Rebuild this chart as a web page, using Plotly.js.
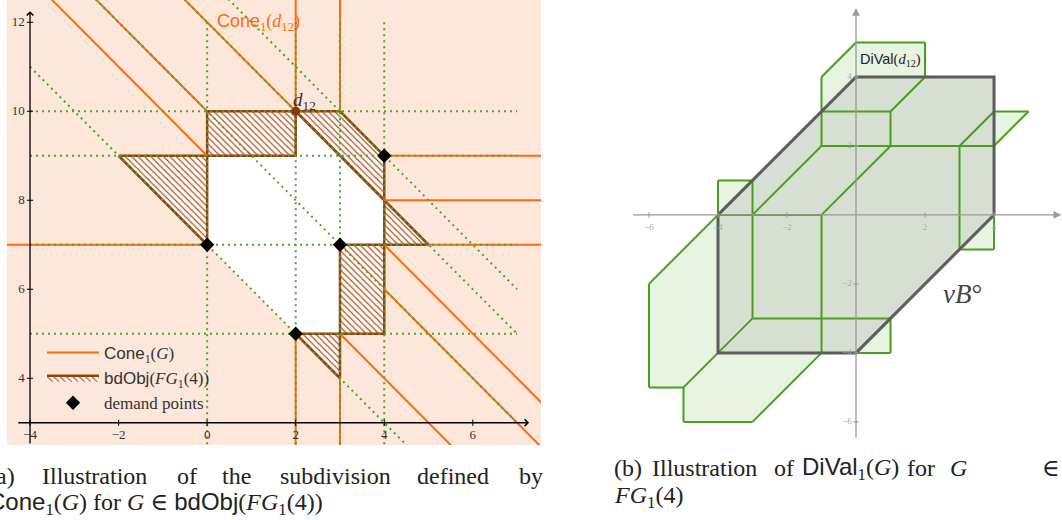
<!DOCTYPE html>
<html><head><meta charset="utf-8">
<script src="https://cdn.plot.ly/plotly-3.0.1.min.js"></script>
<style>html,body{margin:0;padding:0;background:#fff;} #chart{width:1062px;height:520px;}</style>
</head><body><div id="chart"></div>
<script>
// ===== (a) left panel data =====
const demandX = [0, 2, 3, 4];
const demandY = [7, 5, 7, 9];
const d12X = [2];
const d12Y = [10];
const whiteX = [0, 0, 2, 2, 4, 4, 3, 3, 2, 0];
const whiteY = [7, 9, 9, 10, 8, 7, 7, 5, 5, 7];
const bdObjX = [[-2, 0, 0, -2], [0, 2, 2, 0, 0], [2, 3, 4, 4, 2], [4, 5, 4, 4], [3, 4, 4, 3, 3], [2, 3, 3, 2]];
const bdObjY = [[9, 9, 7, 9], [9, 9, 10, 10, 9], [10, 10, 9, 8, 10], [8, 7, 7, 8], [7, 7, 5, 5, 7], [5, 5, 4, 5]];
// cone boundary segments [x0, y0, x1, y1]
const coneLines = [
  [2, 10, 2, 14], [2, 5, 2, 1], [3, 10, 3, 14], [3, 4, 3, 1],
  [-6, 7, 0, 7], [5, 7, 9, 7], [4, 9, 9, 9], [4, 8, 9, 8],
  [-5, 14, 0, 9], [-4, 14, 0, 10], [4, 6, 9, 1], [-2, 14, 2, 10],
  [3, 5, 7, 1], [4, 7, 10, 1]
];
// dotted subdivision segments [x0, y0, x1, y1]
const gridLines = [
  [0, 12, 0, 1], [2, 12, 2, 1], [3, 12, 3, 1], [4, 12, 4, 1],
  [-4, 5, 7, 5], [-4, 7, 7, 7], [-4, 9, 7, 9], [-4, 10, 7, 10],
  [-4, 11, 6, 1], [-3, 13, 7, 3], [-1, 13, 7, 5], [0, 13, 7, 6]
];
const xTicksA = [-4, -2, 0, 2, 4, 6];
const yTicksA = [4, 6, 8, 10, 12];

// ===== (b) right panel data =====
const vBX = [-4, -4, 0, 4, 4, 0, -4];
const vBY = [0, -4, -4, 0, 4, 4, 0];
const diValOutX = [[-1, -1, 0, 2, 2, 0, -1], [-4, -4, -3, -4], [4, 4, 5, 4], [3, 4, 4, 3],
  [-4, -6, -6, -5, -4, -4], [-4, -5, -5, -3, -1, -4], [0, 1, 1, 0]];
const diValOutY = [[3, 4, 5, 5, 4, 4, 3], [0, 1, 1, 0], [2, 3, 3, 2], [-1, -1, 0, -1],
  [0, -2, -5, -5, -4, 0], [-4, -5, -6, -6, -4, -4], [-4, -4, -3, -4]];
const diValEdges = [
  [-1, 3, -1, 4], [-1, 4, 0, 5], [0, 5, 2, 5], [2, 5, 2, 4], [2, 4, 1, 3], [1, 3, -1, 3],
  [1, 3, 1, 2], [-1, 3, -1, 2], [-1, 2, 4, 2], [-1, 2, -3, 0], [1, 2, -1, 0],
  [-4, 1, -3, 1], [-4, 0, -4, 1], [-3, 1, -3, -3], [-4, 0, -1, 0], [-1, 0, -1, -4],
  [-3, -3, 1, -3], [-3, -3, -4, -4], [1, -3, 1, -4], [0, -4, 1, -4],
  [3, 2, 4, 3], [4, 3, 5, 3], [5, 3, 4, 2], [3, 2, 3, -1], [3, -1, 4, -1], [4, -1, 4, 0],
  [-4, 0, -6, -2], [-6, -2, -6, -5], [-6, -5, -5, -5], [-5, -5, -4, -4],
  [-5, -5, -5, -6], [-5, -6, -3, -6], [-3, -6, -1, -4]
];
const xTicksB = [-6, -4, -2, 2, 4];
const yTicksB = [4, 2, -2, -4, -6];

// ===== helpers =====
function segs(list) {
  const x = [], y = [];
  list.forEach(s => { x.push(s[0], s[2], null); y.push(s[1], s[3], null); });
  return {x, y};
}
function polys(xs, ys) {
  const x = [], y = [];
  xs.forEach((p, i) => { x.push(...p, null); y.push(...ys[i], null); });
  return {x, y};
}
const fmt = v => (v < 0 ? '\u2212' + Math.abs(v) : String(v));

const SERIF = 'Liberation Serif, DejaVu Serif, serif';
const ORANGE = '#ff6a10';
const GREEN = '#4aa52a';
const BROWN = '#96400f';

const cone = segs(coneLines);
const grid = segs(gridLines);
const hatch = polys(bdObjX, bdObjY);
const outB = polys(diValOutX, diValOutY);
const edgesB = segs(diValEdges);
const tickA = segs(xTicksA.map(t => [t, 2.93, t, 3.07]).concat(yTicksA.map(t => [-4.07, t, -3.93, t])));
const tickB = segs(xTicksB.map(t => [t, -0.08, t, 0.08]).concat(yTicksB.map(t => [-0.08, t, 0.08, t])));
const sf = t => '<span style="font-family:Liberation Sans">' + t + '</span>';

const traces = [
  {x: whiteX, y: whiteY, xaxis: 'x', yaxis: 'y', mode: 'lines', fill: 'toself', fillcolor: '#ffffff',
   line: {width: 0}, showlegend: false, hoverinfo: 'skip'},
  {x: hatch.x, y: hatch.y, xaxis: 'x', yaxis: 'y', mode: 'lines', fill: 'toself',
   fillcolor: 'rgba(0,0,0,0)',
   fillpattern: {shape: '\\', fgcolor: BROWN, bgcolor: '#fff8f3', size: 4.5, solidity: 0.25},
   line: {color: BROWN, width: 2.5}, name: sf('bdObj') + '(<i>FG</i><sub>1</sub>(4))',
   legendrank: 2, hoverinfo: 'skip'},
  {x: cone.x, y: cone.y, xaxis: 'x', yaxis: 'y', mode: 'lines', line: {color: ORANGE, width: 2},
   name: sf('Cone') + '<sub>1</sub>(<i>G</i>)', legendrank: 1, hoverinfo: 'skip'},
  {x: grid.x, y: grid.y, xaxis: 'x', yaxis: 'y', mode: 'lines',
   line: {color: GREEN, width: 2, dash: '2px,4px'}, showlegend: false, hoverinfo: 'skip'},
  {x: tickA.x, y: tickA.y, xaxis: 'x', yaxis: 'y', mode: 'lines', line: {color: '#000', width: 1},
   showlegend: false, hoverinfo: 'skip'},
  {x: xTicksA, y: xTicksA.map(() => 2.7), xaxis: 'x', yaxis: 'y', mode: 'text', text: xTicksA.map(fmt),
   textposition: 'middle center', textfont: {family: SERIF, size: 13, color: '#333'}, showlegend: false, hoverinfo: 'skip'},
  {x: yTicksA.map(() => -4.12), y: yTicksA, xaxis: 'x', yaxis: 'y', mode: 'text', text: yTicksA.map(fmt),
   textposition: 'middle left', textfont: {family: SERIF, size: 13, color: '#333'}, showlegend: false, hoverinfo: 'skip'},
  {x: d12X, y: d12Y, xaxis: 'x', yaxis: 'y', mode: 'markers', marker: {symbol: 'circle', size: 9, color: '#8b3508'},
   showlegend: false, hoverinfo: 'skip'},
  {x: demandX, y: demandY, xaxis: 'x', yaxis: 'y', mode: 'markers', marker: {symbol: 'diamond', size: 11, color: '#000'},
   name: 'demand points', legendrank: 3, hoverinfo: 'skip'},

  // right panel
  {x: vBX, y: vBY, xaxis: 'x2', yaxis: 'y2', mode: 'lines', fill: 'toself', fillcolor: '#d6dfd2',
   line: {width: 0}, showlegend: false, hoverinfo: 'skip'},
  {x: outB.x, y: outB.y, xaxis: 'x2', yaxis: 'y2', mode: 'lines', fill: 'toself', fillcolor: '#e8f3e2',
   line: {width: 0}, showlegend: false, hoverinfo: 'skip'},
  {x: edgesB.x, y: edgesB.y, xaxis: 'x2', yaxis: 'y2', mode: 'lines', line: {color: '#46a01e', width: 2},
   showlegend: false, hoverinfo: 'skip'},
  {x: vBX, y: vBY, xaxis: 'x2', yaxis: 'y2', mode: 'lines',
   line: {color: '#5c5c5c', width: 3}, showlegend: false, hoverinfo: 'skip'},
  {x: tickB.x, y: tickB.y, xaxis: 'x2', yaxis: 'y2', mode: 'lines', line: {color: '#999', width: 1},
   showlegend: false, hoverinfo: 'skip'},
  {x: xTicksB, y: xTicksB.map(() => -0.36), xaxis: 'x2', yaxis: 'y2', mode: 'text', text: xTicksB.map(fmt),
   textposition: 'middle center', textfont: {family: SERIF, size: 9, color: '#aaa'}, showlegend: false, hoverinfo: 'skip'},
  {x: yTicksB.map(() => -0.12), y: yTicksB, xaxis: 'x2', yaxis: 'y2', mode: 'text', text: yTicksB.map(fmt),
   textposition: 'middle left', textfont: {family: SERIF, size: 9, color: '#aaa'}, showlegend: false, hoverinfo: 'skip'}
];

const hidden = {showgrid: false, zeroline: false, showticklabels: false, showline: false, ticks: '', fixedrange: true};

const capFont = {family: SERIF, size: 24, color: '#222'};
function cap(text, px, py, anchor) {
  return {xref: 'paper', yref: 'paper', x: px / 1062, y: 1 - py / 520, xanchor: anchor || 'left', yanchor: 'middle',
    text: text, showarrow: false, font: capFont};
}

const layout = {
  width: 1062, height: 520, margin: {l: 0, r: 0, t: 0, b: 0},
  paper_bgcolor: '#fff', plot_bgcolor: 'rgba(0,0,0,0)',
  xaxis: Object.assign({domain: [7 / 1062, 541 / 1062], range: [-4.52, 7.54]}, hidden),
  yaxis: Object.assign({domain: [75 / 520, 1], range: [2.5, 12.5]}, hidden),
  xaxis2: Object.assign({domain: [600 / 1062, 1], range: [-7.42, 5.97], anchor: 'y2'}, hidden),
  yaxis2: Object.assign({domain: [75 / 520, 1], range: [-6.67, 6.23], anchor: 'x2'}, hidden),
  showlegend: true,
  legend: {x: 42 / 1062, y: 1 - 335 / 520, xanchor: 'left', yanchor: 'top', bgcolor: 'rgba(0,0,0,0)',
    font: {family: SERIF, size: 17, color: '#333'}, itemwidth: 52, tracegroupgap: 0},
  shapes: [
    {type: 'rect', xref: 'x domain', yref: 'y domain', x0: 0, x1: 1, y0: 0, y1: 1,
     fillcolor: '#fde6da', line: {width: 0}, layer: 'below'}
  ],
  annotations: [
    // left axes
    {xref: 'x', yref: 'y', axref: 'x', ayref: 'y', x: 7.27, y: 3, ax: -4.3, ay: 3, text: '', showarrow: true,
     arrowhead: 4, arrowsize: 1, arrowwidth: 1.3, arrowcolor: '#000'},
    {xref: 'x', yref: 'y', axref: 'x', ayref: 'y', x: -4, y: 12.25, ax: -4, ay: 2.5, text: '', showarrow: true,
     arrowhead: 4, arrowsize: 1, arrowwidth: 1.3, arrowcolor: '#000'},
    {xref: 'x', yref: 'y', x: 1.15, y: 12.0, text: sf('Cone') + '<sub>1</sub>(<i>d</i><sub>12</sub>)', showarrow: false,
     font: {family: SERIF, size: 18, color: ORANGE}},
    {xref: 'x', yref: 'y', x: 2.2, y: 10.22, text: '<i>d</i><sub>12</sub>', showarrow: false,
     font: {family: SERIF, size: 19, color: '#333'}},
    // right axes
    {xref: 'x2', yref: 'y2', axref: 'x2', ayref: 'y2', x: 5.95, y: 0, ax: -6.5, ay: 0, text: '', showarrow: true,
     arrowhead: 2, arrowsize: 1.2, arrowwidth: 1.3, arrowcolor: '#999'},
    {xref: 'x2', yref: 'y2', axref: 'x2', ayref: 'y2', x: 0, y: 6.0, ax: 0, ay: -6.5, text: '', showarrow: true,
     arrowhead: 2, arrowsize: 1.2, arrowwidth: 1.3, arrowcolor: '#999'},
    {xref: 'x2', yref: 'y2', x: 0.99, y: 4.49, text: sf('DiVal') + '(<i>d</i><sub>12</sub>)', showarrow: false,
     font: {family: SERIF, size: 14.5, color: '#222'}},
    {xref: 'x2', yref: 'y2', x: 3.1, y: -2.3, text: '<i>vB</i>\u00b0', showarrow: false,
     font: {family: SERIF, size: 27, color: '#444'}},
    // captions
    cap('(a)', -14, 476), cap('Illustration', 40, 476), cap('of', 175, 476), cap('the', 220, 476),
    cap('subdivision', 278, 476), cap('defined', 415, 476), cap('by', 517, 476),
    cap(sf('Cone') + '<sub>1</sub>(<i>G</i>) for <i>G</i> \u2208 ' + sf('bdObj') + '(<i>FG</i><sub>1</sub>(4))', -14, 503),
    cap('(b)', 612, 468), cap('Illustration', 650, 468), cap('of', 772, 468),
    cap(sf('DiVal') + '<sub>1</sub>(<i>G</i>)', 800, 468), cap('for', 905, 468), cap('<i>G</i>', 948, 468),
    cap('\u2208', 1040, 468),
    cap('<i>FG</i><sub>1</sub>(4)', 612, 497)
  ]
};

Plotly.newPlot('chart', traces, layout, {staticPlot: true, displayModeBar: false});
</script>
</body></html>
